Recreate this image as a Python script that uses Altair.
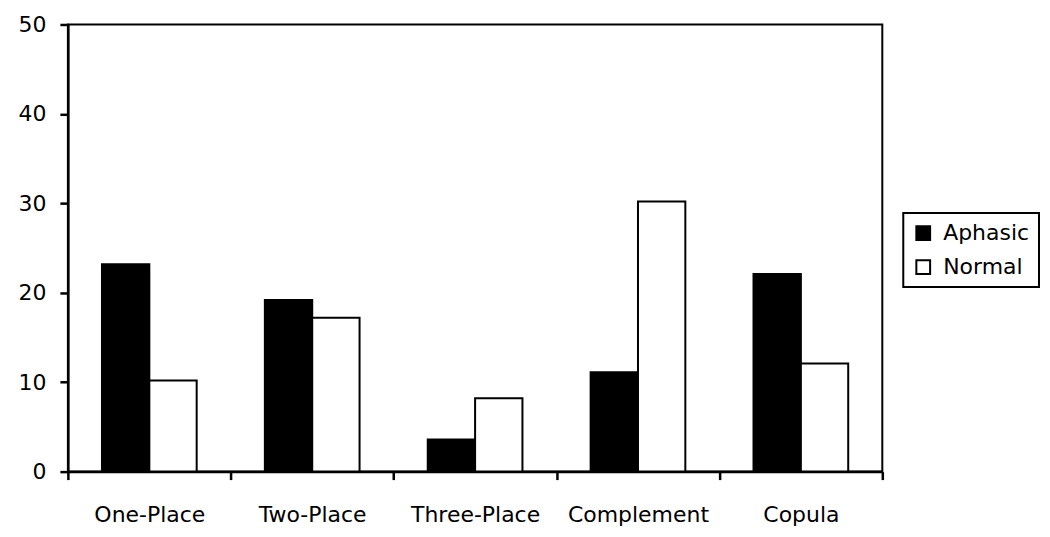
import altair as alt
import pandas as pd

categories = ["One-Place", "Two-Place", "Three-Place", "Complement", "Copula"]
aphasic = [23.2, 19.2, 3.6, 11.1, 22.1]
normal = [10.2, 17.2, 8.2, 30.2, 12.1]
groups = ["Aphasic", "Normal"]

rows = []
for c, a, n in zip(categories, aphasic, normal):
    rows.append({"cat": c, "grp": "Aphasic", "val": a})
    rows.append({"cat": c, "grp": "Normal", "val": n})
df = pd.DataFrame(rows)

FONT = "DejaVu Sans"

chart = alt.Chart(df).mark_bar(stroke="black", strokeWidth=2).encode(
    x=alt.X("cat:N", sort=categories, title=None,
            scale=alt.Scale(paddingInner=0, paddingOuter=0),
            axis=alt.Axis(labelAngle=0, tickBand="extent", tickSize=8, labelPadding=25,
                          labelFontSize=22, labelFont=FONT, labelColor="black",
                          domainColor="black", domainWidth=2.5, tickColor="black",
                          tickWidth=2.5, grid=False)),
    xOffset=alt.XOffset("grp:N", sort=groups, scale=alt.Scale(paddingInner=0, paddingOuter=0.72)),
    y=alt.Y("val:Q", title=None, scale=alt.Scale(domain=[0, 50], nice=False),
            axis=alt.Axis(values=[0, 10, 20, 30, 40, 50], tickSize=8, labelPadding=14,
                          labelFontSize=22, labelFont=FONT, labelColor="black",
                          domainColor="black", domainWidth=2.5, tickColor="black",
                          tickWidth=2.5, grid=False)),
    fill=alt.Fill("grp:N", sort=groups,
                  scale=alt.Scale(domain=groups, range=["black", "white"]),
                  legend=alt.Legend(title=None, orient="none", legendX=837, legendY=189,
                                    symbolType="square", symbolSize=190,
                                    symbolStrokeColor="black", symbolStrokeWidth=2,
                                    labelFontSize=22, labelFont=FONT, labelColor="black",
                                    labelOffset=9, rowPadding=12, padding=9,
                                    strokeColor="black")),
).properties(
    width=816, height=448,
    autosize=alt.AutoSizeParams(type="none"),
    padding={"left": 60, "top": 16, "right": 160, "bottom": 60},
    background="white",
).configure_view(
    stroke="black", strokeWidth=2
).configure_legend(
    strokeWidth=2
)

chart.save("out.html", embed_options={"renderer": "svg", "actions": False})
